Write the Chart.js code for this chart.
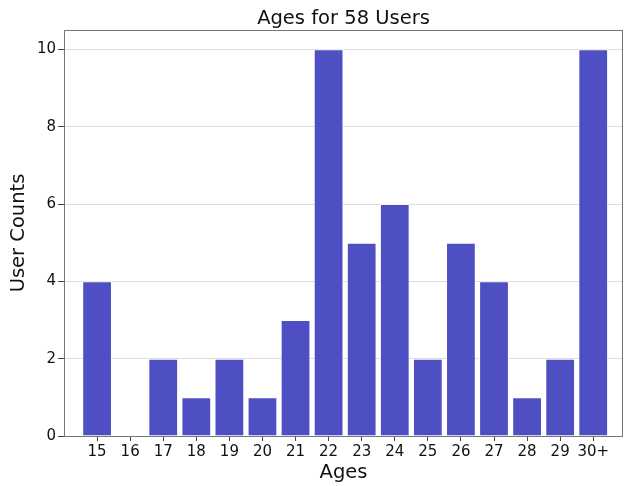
<!DOCTYPE html>
<html>
<head>
<meta charset="utf-8">
<script src="https://cdn.jsdelivr.net/npm/chart.js@4.4.1/dist/chart.umd.min.js"></script>
<style>
  html, body { margin: 0; padding: 0; background: #fff; }
  #wrap { width: 624px; height: 486px; }
</style>
</head>
<body>
<div id="wrap"><canvas id="ages" width="624" height="486"></canvas></div>
<script>
const ageLabels = ["15", "16", "17", "18", "19", "20", "21", "22", "23", "24", "25", "26", "27", "28", "29", "30+"];
const userCounts = [4, 0, 2, 1, 2, 1, 3, 10, 5, 6, 2, 5, 4, 1, 2, 10];
const yTicks = [0, 2, 4, 6, 8, 10];
const titleText = "Ages for 58 Users";

const FONT = "'DejaVu Sans', sans-serif";

// frame + title centered over the plot, matplotlib style
const framePlugin = {
  id: "frame",
  afterDraw(chart) {
    const { ctx, chartArea: a } = chart;
    ctx.save();
    ctx.strokeStyle = "#777";
    ctx.lineWidth = 1;
    ctx.strokeRect(a.left + 0.5, a.top + 0.5, a.right - a.left - 1, a.bottom - a.top);
    ctx.fillStyle = "#111";
    ctx.font = "19.5px " + FONT;
    ctx.textAlign = "center";
    ctx.textBaseline = "middle";
    ctx.fillText(titleText, (a.left + a.right) / 2, 19);
    ctx.restore();
  },
};

new Chart(document.getElementById("ages").getContext("2d"), {
  type: "bar",
  data: {
    datasets: [{
      data: userCounts.map((v, i) => ({ x: i, y: v })),
      backgroundColor: "#4f4fc4",
      borderColor: "rgba(255,255,255,0.7)",
      borderWidth: 1,
      barPercentage: 0.9,
      categoryPercentage: 1,
    }],
  },
  options: {
    responsive: false,
    animation: false,
    layout: { padding: { top: 30, right: 1, left: 0, bottom: 0 } },
    plugins: { legend: { display: false }, tooltip: { enabled: false } },
    scales: {
      x: {
        type: "linear",
        offset: false,
        min: -1,
        max: 15.9,
        afterBuildTicks(axis) { axis.ticks = ageLabels.map((_, i) => ({ value: i })); },
        afterFit(axis) { axis.height = 50; },
        grid: { offset: false, drawOnChartArea: false, tickLength: 5, tickColor: "#444" },
        border: { display: false },
        ticks: {
          autoSkip: false,
          maxRotation: 0,
          padding: 2,
          color: "#111",
          font: { family: FONT, size: 15 },
          callback: (v) => ageLabels[v] ?? "",
        },
        title: {
          display: true,
          text: "Ages",
          color: "#111",
          font: { family: FONT, size: 19.5 },
          padding: { top: 0, bottom: 1 },
        },
      },
      y: {
        min: 0,
        max: 10.5,
        afterBuildTicks(axis) { axis.ticks = yTicks.map((v) => ({ value: v })); },
        afterFit(axis) { axis.width = 64; },
        grid: { color: "#dddddd", tickLength: 6, tickColor: "#444" },
        border: { display: false },
        ticks: {
          padding: 2,
          color: "#111",
          font: { family: FONT, size: 15 },
        },
        title: {
          display: true,
          text: "User Counts",
          color: "#111",
          font: { family: FONT, size: 19.5 },
          padding: { top: 7, bottom: 0 },
        },
      },
    },
  },
  plugins: [framePlugin],
});
</script>
</body>
</html>
